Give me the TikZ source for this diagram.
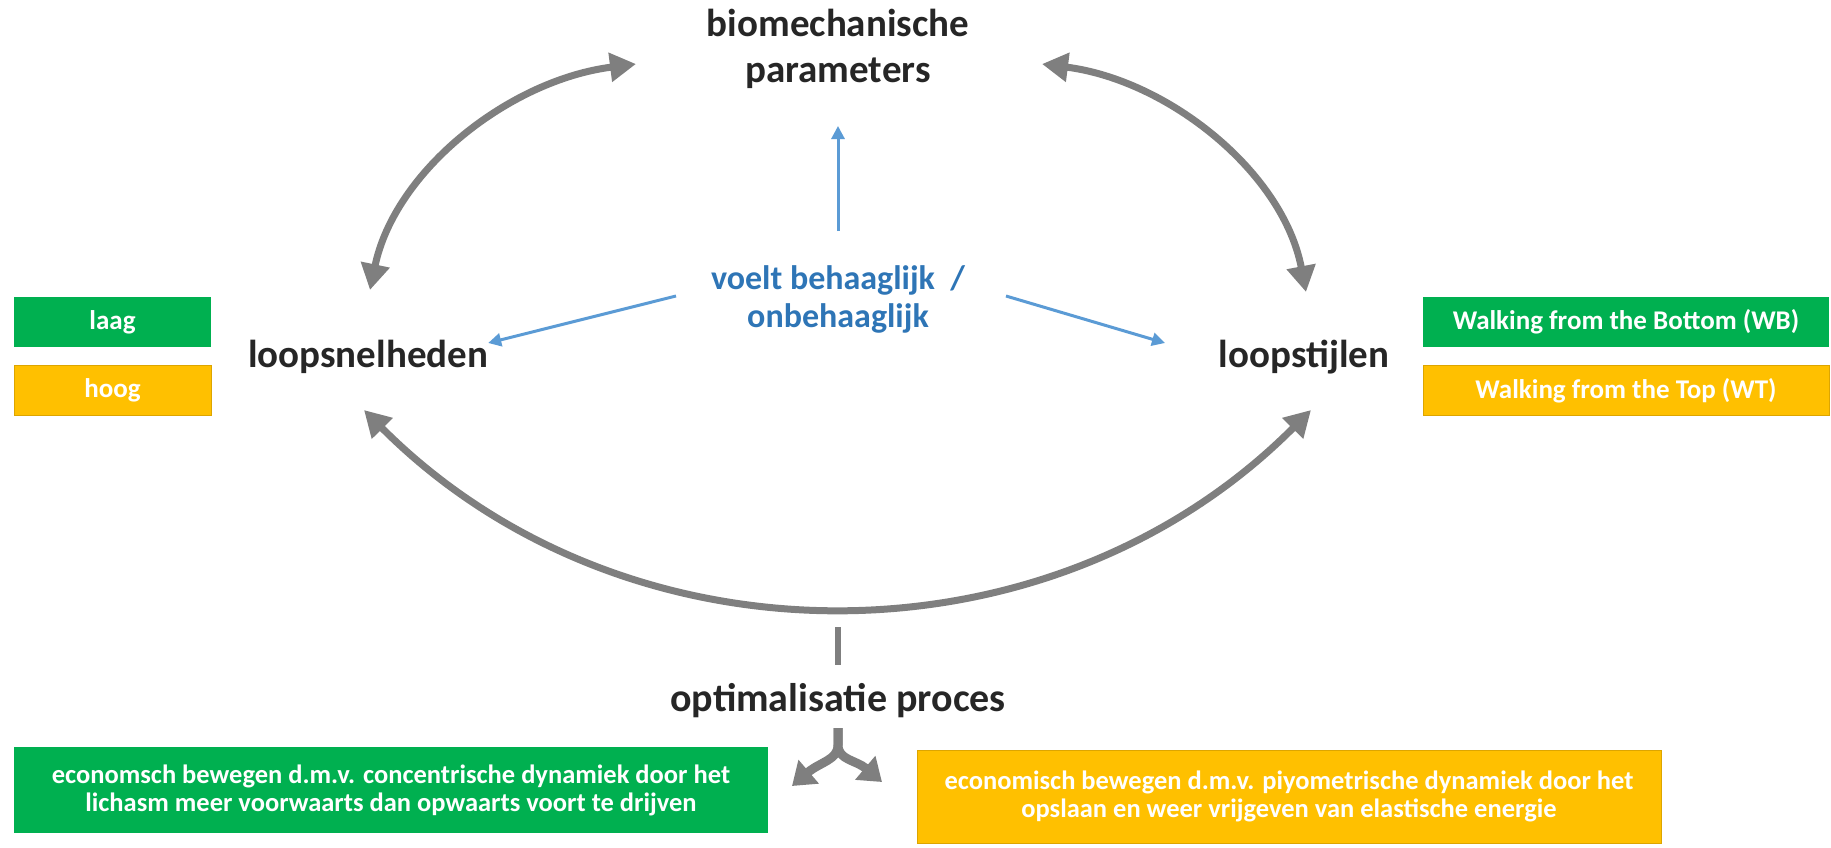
\documentclass[tikz,border=0pt]{standalone}
\usepackage{fontspec}
\setmainfont{Carlito}
\usetikzlibrary{arrows.meta}
\definecolor{gArrow}{HTML}{7F7F7F}
\definecolor{bArrow}{HTML}{5B9BD5}
\definecolor{bText}{HTML}{2E75B6}
\definecolor{gFill}{HTML}{00B050}
\definecolor{oFill}{HTML}{FFC000}
\definecolor{oEdge}{HTML}{DDA500}
\definecolor{txt}{HTML}{262626}
\begin{document}
\begin{tikzpicture}[x=1pt,y=-1pt,
  mainlbl/.style={text=txt,font=\fontsize{39}{46}\selectfont\bfseries,align=center,inner sep=0pt},
  bluelbl/.style={text=bText,font=\fontsize{34}{38}\selectfont\bfseries,align=center,inner sep=0pt},
  smallbox/.style={inner sep=0pt,text=white,font=\fontsize{27}{30}\selectfont\bfseries,minimum height=50pt},
  bigbox/.style={inner sep=0pt,text=white,font=\fontsize{26.5}{28}\selectfont\bfseries,align=center},
  greyarrow/.style={draw=gArrow,line width=7pt,{Triangle[length=26pt,width=28pt]}-{Triangle[length=26pt,width=28pt]}},
  bluearrow/.style={draw=bArrow,line width=3pt,-{Triangle[length=13pt,width=13pt]}},
  splitarrow/.style={draw=gArrow,line width=9pt,-{Triangle[length=22pt,width=30pt]}}
]
\useasboundingbox (0,0) rectangle (1831,847);

% main labels
\node[mainlbl] (bio) at (838,49) {biomechanische\\parameters};
\node[mainlbl] (snel) at (368,357) {loopsnelheden};
\node[mainlbl] (stijl) at (1304,357) {loopstijlen};
\node[mainlbl,font=\fontsize{40}{46}\selectfont\bfseries] (opt) at (838,701) {optimalisatie proces};
\node[bluelbl] (voelt) at (838,299) {voelt behaaglijk~~/\\onbehaaglijk};

% side boxes
\node[smallbox,fill=gFill,minimum width=197pt] (laag) at (112.5,322) {laag};
\node[smallbox,fill=oFill,draw=oEdge,line width=1pt,minimum width=197pt] (hoog) at (112.5,390.5) {hoog};
\node[smallbox,fill=gFill,minimum width=406pt] (wb) at (1626,322) {Walking from the Bottom (WB)};
\node[smallbox,fill=oFill,draw=oEdge,line width=1pt,minimum width=406pt] (wt) at (1626,390.5) {Walking from the Top (WT)};

% bottom boxes
\node[bigbox,fill=gFill,minimum width=754pt,minimum height=86pt] (econ1) at (391,790)
  {economsch bewegen d.m.v. concentrische dynamiek door het\\lichasm meer voorwaarts dan opwaarts voort te drijven};
\node[bigbox,fill=oFill,draw=oEdge,line width=1pt,minimum width=744pt,minimum height=93pt] (econ2) at (1289,796.5)
  {economisch bewegen d.m.v. piyometrische dynamiek door het\\opslaan en weer vrijgeven van elastische energie};

% arc end points
\coordinate (tlA) at (370,290);
\coordinate (tlB) at (636,64);
\coordinate (trA) at (1042,64);
\coordinate (trB) at (1306,292);
\coordinate (bA) at (364,410);
\coordinate (bB) at (1311,410);

% grey double arrows
\draw[greyarrow] (tlA) .. controls (395,170) and (510,80) .. (tlB);
\draw[greyarrow] (trA) .. controls (1168,80) and (1283,172) .. (trB);
\draw[greyarrow] (bA) .. controls (625,672) and (1050,672) .. (bB);

% line from arc to optimalisatie
\coordinate (vtop) at (838,627);
\draw[draw=gArrow,line width=6pt] (vtop) -- (opt.north |- 0,665);

% split arrow
\coordinate (sp) at (838,728);
\coordinate (spL) at (792,786);
\coordinate (spR) at (882,782);
\draw[splitarrow] (sp) -- (838,745) .. controls (838,760) and (820,762) .. (spL);
\draw[splitarrow] (sp) -- (838,745) .. controls (838,760) and (856,760) .. (spR);

% blue arrows
\coordinate (bu1) at (838,231);
\coordinate (bl1) at (676,296);
\coordinate (br1) at (1006,296);
\coordinate (brT) at (1165,343);
\draw[bluearrow] (bu1) -- (bio.south |- 0,126);
\draw[bluearrow] (bl1) -- (snel.east |- 0,343);
\draw[bluearrow] (br1) -- (brT);
\end{tikzpicture}
\end{document}
